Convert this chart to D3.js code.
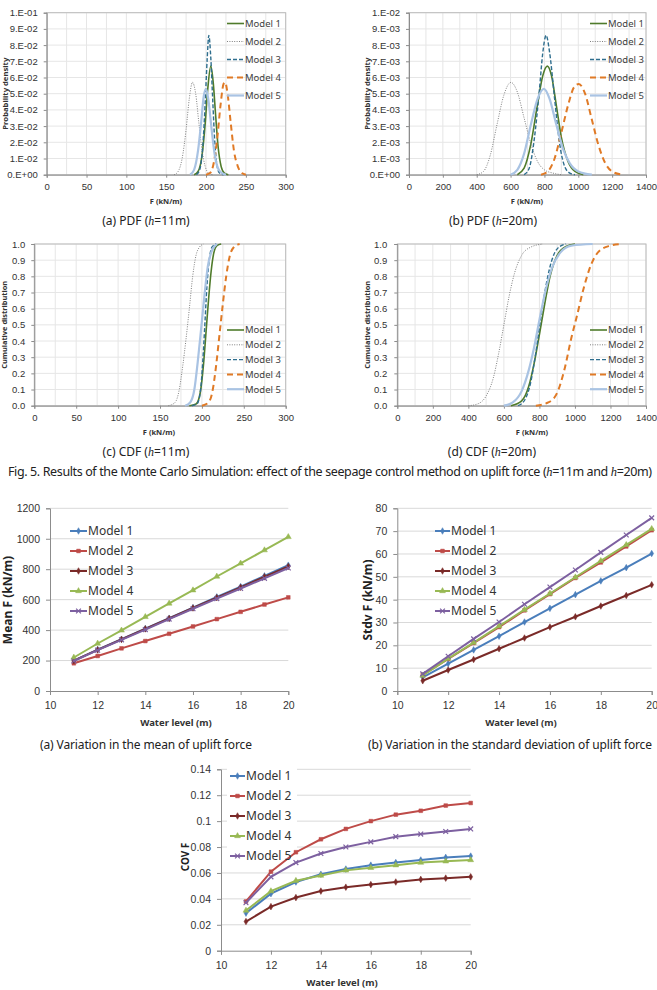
<!DOCTYPE html>
<html>
<head>
<meta charset="utf-8">
<script src="https://cdn.jsdelivr.net/npm/d3@7"></script>
<style>
  body { margin: 0; background: #fff; }
  svg { display: block; font-family: "Noto Sans", "DejaVu Sans", sans-serif; }
</style>
</head>
<body>
<svg id="fig" width="657" height="990"></svg>
<script>
"use strict";
const MODELS = ["Model 1", "Model 2", "Model 3", "Model 4", "Model 5"];

// ---- (a) PDF, h = 11 m : [F, density]
const pdf11_m1 = [[185,0],[190,0.002],[195,0.012],[199,0.032],[202,0.052],[206,0.067],[209,0.057],[212,0.037],[215,0.018],[219,0.005],[223,0.001],[228,0]];
const pdf11_m2 = [[160,0],[165,0.002],[170,0.01],[175,0.028],[179,0.047],[183,0.057],[187,0.05],[191,0.032],[195,0.015],[199,0.005],[203,0.001],[208,0]];
const pdf11_m3 = [[188,0],[192,0.003],[196,0.018],[199,0.045],[201.5,0.072],[203.5,0.086],[206,0.072],[208.5,0.045],[211,0.02],[214,0.005],[217,0.001],[222,0]];
const pdf11_m4 = [[200,0],[205,0.001],[210,0.008],[214,0.022],[218,0.042],[222,0.056],[224,0.057],[227,0.05],[231,0.032],[235,0.015],[240,0.005],[245,0.001],[250,0]];
const pdf11_m5 = [[180,0],[185,0.003],[190,0.015],[194,0.033],[197,0.048],[200,0.053],[203,0.046],[207,0.028],[211,0.012],[215,0.004],[220,0.001],[225,0]];

// ---- (b) PDF, h = 20 m
const pdf20_m1 = [[640,0],[680,0.0004],[720,0.0019],[760,0.0044],[790,0.0061],[817,0.0067],[842,0.0061],[870,0.0043],[900,0.0023],[940,0.0008],[980,0.0002],[1030,0]];
const pdf20_m2 = [[400,0],[440,0.0002],[480,0.0012],[520,0.0031],[560,0.0049],[602,0.0057],[640,0.0051],[680,0.0035],[720,0.0019],[760,0.0008],[800,0.0003],[850,0.0001],[900,0]];
const pdf20_m3 = [[680,0],[710,0.0004],[740,0.0022],[770,0.0052],[790,0.0075],[810,0.0086],[830,0.0076],[860,0.0047],[890,0.0019],[920,0.0005],[950,0.0001],[980,0]];
const pdf20_m4 = [[780,0],[820,0.0002],[860,0.001],[900,0.0026],[940,0.0043],[975,0.0054],[1003,0.0056],[1040,0.005],[1080,0.0034],[1120,0.0018],[1160,0.0007],[1200,0.0002],[1260,0]];
const pdf20_m5 = [[600,0],[640,0.0003],[680,0.0013],[720,0.0031],[760,0.0047],[797,0.0053],[830,0.0047],[870,0.0031],[910,0.0016],[950,0.0007],[1000,0.0002],[1080,0]];

// ---- (c) CDF, h = 11 m
const cdf11_m1 = [[185,0],[193,0.01],[198,0.08],[202,0.26],[205,0.46],[208,0.66],[211,0.83],[214,0.94],[218,0.99],[223,1]];
const cdf11_m2 = [[160,0],[168,0.02],[173,0.1],[177,0.24],[181,0.41],[185,0.6],[189,0.8],[193,0.93],[197,0.98],[202,1]];
const cdf11_m3 = [[188,0],[194,0.01],[198,0.08],[201,0.27],[203.5,0.5],[206,0.74],[209,0.91],[212,0.98],[217,1]];
const cdf11_m4 = [[200,0],[208,0.02],[213,0.1],[217,0.25],[221,0.44],[225,0.63],[229,0.8],[233,0.92],[238,0.98],[245,1]];
const cdf11_m5 = [[180,0],[186,0.02],[191,0.1],[195,0.27],[199,0.47],[203,0.68],[207,0.86],[212,0.96],[218,1]];

// ---- (d) CDF, h = 20 m
const cdf20_m1 = [[640,0],[700,0.03],[740,0.12],[770,0.26],[800,0.44],[830,0.63],[860,0.8],[900,0.93],[950,0.985],[1000,1]];
const cdf20_m2 = [[400,0],[450,0.01],[500,0.06],[540,0.17],[570,0.32],[600,0.5],[630,0.68],[660,0.82],[700,0.93],[750,0.98],[820,1]];
const cdf20_m3 = [[680,0],[720,0.04],[750,0.14],[780,0.33],[810,0.56],[840,0.76],[870,0.9],[900,0.97],[950,1]];
const cdf20_m4 = [[780,0],[850,0.02],[900,0.08],[940,0.22],[980,0.42],[1010,0.55],[1050,0.73],[1090,0.87],[1140,0.96],[1200,0.99],[1260,1]];
const cdf20_m5 = [[600,0],[650,0.02],[700,0.09],[740,0.22],[770,0.36],[800,0.53],[830,0.69],[870,0.85],[920,0.95],[980,0.99],[1100,1]];

// ---- tick values
const TICKS_F300 = [0, 50, 100, 150, 200, 250, 300];
const TICKS_F1400 = [0, 200, 400, 600, 800, 1000, 1200, 1400];
const TICKS_PDF11 = [0, 0.01, 0.02, 0.03, 0.04, 0.05, 0.06, 0.07, 0.08, 0.09, 0.1];
const TICKS_PDF20 = [0, 0.001, 0.002, 0.003, 0.004, 0.005, 0.006, 0.007, 0.008, 0.009, 0.01];
const TICKS_CDF = [0, 0.1, 0.2, 0.3, 0.4, 0.5, 0.6, 0.7, 0.8, 0.9, 1.0];
const TICKS_LEVEL = [10, 12, 14, 16, 18, 20];
const TICKS_MEAN = [0, 200, 400, 600, 800, 1000, 1200];
const TICKS_STDV = [0, 10, 20, 30, 40, 50, 60, 70, 80];
const TICKS_COV = [0, 0.02, 0.04, 0.06, 0.08, 0.1, 0.12, 0.14];

// ---- water level series
const LEVELS = [11, 12, 13, 14, 15, 16, 17, 18, 19, 20];
const mean_m1 = [200, 272, 340, 410, 478, 548, 618, 686, 756, 826];
const mean_m2 = [182, 230, 280, 328, 376, 424, 472, 520, 568, 615];
const mean_m3 = [199, 270, 339, 408, 476, 545, 613, 681, 750, 818];
const mean_m4 = [220, 312, 398, 487, 575, 662, 752, 838, 925, 1012];
const mean_m5 = [197, 268, 336, 403, 472, 540, 607, 673, 740, 808];

const stdv_m1 = [6, 12, 18, 24, 30.2, 36.2, 42.2, 48.2, 54, 60.2];
const stdv_m2 = [7, 14, 21, 28, 35.3, 42.4, 49.5, 56.3, 63.3, 70.4];
const stdv_m3 = [4.5, 9.2, 13.8, 18.5, 23.2, 28, 32.5, 37.2, 41.8, 46.5];
const stdv_m4 = [6.8, 14.2, 21.2, 28.4, 35.6, 42.7, 49.8, 57, 64, 71];
const stdv_m5 = [7.5, 15.2, 22.8, 30.2, 38, 45.5, 53, 60.7, 68.3, 75.8];

const cov_m1 = [0.029, 0.044, 0.053, 0.059, 0.063, 0.066, 0.068, 0.070, 0.072, 0.073];
const cov_m2 = [0.038, 0.061, 0.076, 0.086, 0.094, 0.100, 0.105, 0.108, 0.112, 0.114];
const cov_m3 = [0.0225, 0.034, 0.041, 0.046, 0.049, 0.051, 0.053, 0.055, 0.056, 0.057];
const cov_m4 = [0.031, 0.046, 0.054, 0.058, 0.062, 0.064, 0.066, 0.068, 0.069, 0.070];
const cov_m5 = [0.037, 0.057, 0.068, 0.075, 0.080, 0.084, 0.088, 0.090, 0.092, 0.094];

const DIST_STYLE = [
  { color: "#4f7b2b", width: 1.6, dash: null },
  { color: "#7f7f7f", width: 1, dash: "1,1.4" },
  { color: "#2e6e8e", width: 1.4, dash: "4,2" },
  { color: "#e07a26", width: 2, dash: "6,4" },
  { color: "#a9c3e3", width: 2.2, dash: null }
];
const LINE_STYLE = [
  { color: "#4a7ebb", marker: "diamond" },
  { color: "#be4b48", marker: "square" },
  { color: "#7a2a28", marker: "diamond" },
  { color: "#98b954", marker: "triangle" },
  { color: "#7d60a0", marker: "x" }
];

const svg = d3.select("#fig");

function sciLabel(d) {
  if (d === 0) return "0.E+00";
  const e = Math.floor(Math.log10(d) + 1e-9);
  const m = Math.round(d / Math.pow(10, e));
  return m + ".E-" + String(-e).padStart(2, "0");
}

function styleAxis(ax, fs) {
  ax.select(".domain").attr("stroke", "#8c8c8c");
  ax.selectAll(".tick line").attr("stroke", "#8c8c8c");
  ax.selectAll(".tick text").attr("fill", "#333").attr("font-size", fs);
}

/* distribution panels: PDF / CDF */
function distPanel(c) {
  const g = svg.append("g");
  const xMax = c.xTicks[c.xTicks.length - 1];
  const x = d3.scaleLinear().domain([0, xMax]).range([c.l, c.r]);
  const y = d3.scaleLinear().domain([0, c.yTicks[c.yTicks.length - 1]]).range([c.b, c.t]);

  g.append("g").selectAll("line").data(d3.range(c.gridStep, xMax + 1e-9, c.gridStep)).join("line")
    .attr("x1", (d) => x(d)).attr("x2", (d) => x(d)).attr("y1", c.t).attr("y2", c.b)
    .attr("stroke", "#e6e6e6");
  g.append("g").selectAll("line").data(c.yTicks.slice(1)).join("line")
    .attr("x1", c.l).attr("x2", c.r).attr("y1", (d) => y(d)).attr("y2", (d) => y(d))
    .attr("stroke", "#e6e6e6");
  g.append("rect").attr("x", c.l).attr("y", c.t).attr("width", c.r - c.l).attr("height", c.b - c.t)
    .attr("fill", "none").attr("stroke", "#bcbcbc");

  const xa = g.append("g").attr("transform", `translate(0,${c.b})`)
    .call(d3.axisBottom(x).tickValues(c.xTicks).tickSize(3).tickPadding(6).tickFormat(d3.format("d")));
  styleAxis(xa, 9.5);
  const ya = g.append("g").attr("transform", `translate(${c.l},0)`)
    .call(d3.axisLeft(y).tickValues(c.yTicks).tickSize(3).tickPadding(c.yPad).tickFormat(c.yFmt));
  styleAxis(ya, 9.5);

  const line = d3.line().x((d) => x(d[0])).y((d) => y(d[1])).curve(d3.curveMonotoneX);
  c.series.forEach((pts, i) => {
    const st = DIST_STYLE[i];
    g.append("path").datum(pts).attr("d", line).attr("fill", "none")
      .attr("stroke", st.color).attr("stroke-width", st.width)
      .attr("stroke-dasharray", st.dash);
  });

  // legend
  MODELS.forEach((m, i) => {
    const st = DIST_STYLE[i];
    const ly = c.legY + i * c.legDy;
    g.append("line").attr("x1", c.legX).attr("x2", c.legX + 17).attr("y1", ly).attr("y2", ly)
      .attr("stroke", st.color).attr("stroke-width", st.width).attr("stroke-dasharray", st.dash);
    g.append("text").attr("x", c.legX + 18).attr("y", ly).attr("dy", "0.35em")
      .attr("font-size", 9.5).attr("fill", "#404040").text(m);
  });

  g.append("text").attr("x", c.xLab).attr("y", c.b + 29).attr("text-anchor", "middle")
    .attr("font-size", 7.5).attr("font-weight", "bold").attr("fill", "#333").text("F (kN/m)");
  g.append("text").attr("transform", `translate(${c.yLabX},${(c.t + c.b) / 2}) rotate(-90)`)
    .attr("text-anchor", "middle").attr("dy", "0.35em").attr("font-size", 7.5).attr("font-weight", "bold")
    .attr("fill", "#333").attr("textLength", c.yLabLen).attr("lengthAdjust", "spacingAndGlyphs").text(c.yLabel);

  const cap = g.append("text").attr("x", c.capX).attr("y", c.b + 46).attr("text-anchor", "middle")
    .attr("dy", "0.35em").attr("font-size", 12).attr("fill", "#222");
  cap.append("tspan").text(c.cap1 + "  (");
  cap.append("tspan").attr("font-style", "italic").attr("font-family", "Liberation Serif, serif").text("h");
  cap.append("tspan").text(c.cap2);
}

function markerPath(kind, r) {
  if (kind === "diamond") return d3.symbol(d3.symbolDiamond, r * r * 2.2)();
  if (kind === "square") return d3.symbol(d3.symbolSquare, r * r * 2.4)();
  if (kind === "triangle") return d3.symbol(d3.symbolTriangle, r * r * 2.6)();
  return `M${-r},${-r}L${r},${r}M${-r},${r}L${r},${-r}`;
}

/* water level panels */
function levelPanel(c) {
  const g = svg.append("g");
  const x = d3.scaleLinear().domain([10, 20]).range([c.l, c.r]);
  const y = d3.scaleLinear().domain([0, c.yTicks[c.yTicks.length - 1]]).range([c.b, c.t]);

  g.append("g").selectAll("line").data(c.yTicks.slice(1)).join("line")
    .attr("x1", c.l).attr("x2", c.r).attr("y1", (d) => y(d)).attr("y2", (d) => y(d))
    .attr("stroke", "#d9d9d9");

  const xa = g.append("g").attr("transform", `translate(0,${c.b})`)
    .call(d3.axisBottom(x).tickValues(TICKS_LEVEL).tickSize(4).tickPadding(7).tickFormat(d3.format("d")));
  styleAxis(xa, 10.5);
  const ya = g.append("g").attr("transform", `translate(${c.l},0)`)
    .call(d3.axisLeft(y).tickValues(c.yTicks).tickSize(4).tickPadding(6).tickFormat(c.yFmt));
  styleAxis(ya, 10.5);

  if (c.legBg) {
    g.append("rect").attr("x", c.legX - 3).attr("y", c.legY - 9).attr("width", 70).attr("height", 98)
      .attr("fill", "#fff");
  }

  const line = d3.line().x((d, i) => x(LEVELS[i])).y((d) => y(d));
  c.series.forEach((vals, i) => {
    const st = LINE_STYLE[i];
    g.append("path").datum(vals).attr("d", line).attr("fill", "none")
      .attr("stroke", st.color).attr("stroke-width", 2);
    g.append("g").selectAll("path").data(vals).join("path")
      .attr("transform", (d, k) => `translate(${x(LEVELS[k])},${y(d)})`)
      .attr("d", markerPath(st.marker, 2.4))
      .attr("fill", st.marker === "x" ? "none" : st.color)
      .attr("stroke", st.color).attr("stroke-width", st.marker === "x" ? 1.2 : 0.5);
  });

  MODELS.forEach((m, i) => {
    const st = LINE_STYLE[i];
    const ly = c.legY + i * 20;
    g.append("line").attr("x1", c.legX).attr("x2", c.legX + c.legW).attr("y1", ly).attr("y2", ly)
      .attr("stroke", st.color).attr("stroke-width", 2);
    g.append("path").attr("transform", `translate(${c.legX + c.legW / 2},${ly})`)
      .attr("d", markerPath(st.marker, 2.4))
      .attr("fill", st.marker === "x" ? "none" : st.color)
      .attr("stroke", st.color).attr("stroke-width", st.marker === "x" ? 1.2 : 0.5);
    g.append("text").attr("x", c.legX + c.legW + 1).attr("y", ly).attr("dy", "0.36em")
      .attr("font-size", 12).attr("fill", "#333").text(m);
  });

  g.append("text").attr("x", c.xLab).attr("y", c.b + 35).attr("text-anchor", "middle")
    .attr("font-size", 9.5).attr("font-weight", "bold").attr("fill", "#333").text("Water level (m)");
  g.append("text").attr("transform", `translate(${c.yLabX},${c.yLabY}) rotate(-90)`)
    .attr("text-anchor", "middle").attr("dy", "0.35em").attr("font-size", c.yLabFs).attr("font-weight", "bold")
    .attr("fill", "#222").text(c.yLabel);
}

distPanel({ l: 46.7, r: 285.7, t: 12.7, b: 174.7, xTicks: TICKS_F300, gridStep: 25, yTicks: TICKS_PDF11,
  yFmt: sciLabel, yPad: 6, series: [pdf11_m1, pdf11_m2, pdf11_m3, pdf11_m4, pdf11_m5],
  legX: 227, legY: 23.5, legDy: 18, xLab: 166, yLabX: 5, yLabel: "Probability density", yLabLen: 72,
  capX: 146, cap1: "(a)  PDF", cap2: "=11m)" });
distPanel({ l: 409, r: 646, t: 12.7, b: 174.7, xTicks: TICKS_F1400, gridStep: 100, yTicks: TICKS_PDF20,
  yFmt: sciLabel, yPad: 6, series: [pdf20_m1, pdf20_m2, pdf20_m3, pdf20_m4, pdf20_m5],
  legX: 590, legY: 23.5, legDy: 18, xLab: 527, yLabX: 367, yLabel: "Probability density", yLabLen: 72,
  capX: 493, cap1: "(b)  PDF", cap2: "=20m)" });
distPanel({ l: 34.3, r: 285.7, t: 244, b: 405.7, xTicks: TICKS_F300, gridStep: 25, yTicks: TICKS_CDF,
  yFmt: d3.format(".1f"), yPad: 6, series: [cdf11_m1, cdf11_m2, cdf11_m3, cdf11_m4, cdf11_m5],
  legX: 227, legY: 330, legDy: 14.8, xLab: 159, yLabX: 4, yLabel: "Cumulative distribution", yLabLen: 88,
  capX: 146, cap1: "(c)  CDF", cap2: "=11m)" });
distPanel({ l: 397.3, r: 646, t: 244, b: 405.7, xTicks: TICKS_F1400, gridStep: 100, yTicks: TICKS_CDF,
  yFmt: d3.format(".1f"), yPad: 7, series: [cdf20_m1, cdf20_m2, cdf20_m3, cdf20_m4, cdf20_m5],
  legX: 590, legY: 330, legDy: 14.8, xLab: 532, yLabX: 367, yLabel: "Cumulative distribution", yLabLen: 88,
  capX: 492, cap1: "(d)  CDF", cap2: "=20m)" });

// figure caption
const fc = svg.append("text").attr("x", 8).attr("y", 472).attr("dy", "0.35em").attr("font-size", 12.5)
  .attr("fill", "#222").attr("textLength", 644).attr("lengthAdjust", "spacing");
fc.append("tspan").text("Fig. 5. Results of the Monte Carlo Simulation: effect of the seepage control method on uplift force (");
fc.append("tspan").attr("font-style", "italic").attr("font-family", "Liberation Serif, serif").text("h");
fc.append("tspan").text("=11m and ");
fc.append("tspan").attr("font-style", "italic").attr("font-family", "Liberation Serif, serif").text("h");
fc.append("tspan").text("=20m)");

levelPanel({ l: 50, r: 288.3, t: 508.3, b: 691, yTicks: TICKS_MEAN, yFmt: d3.format("d"),
  series: [mean_m1, mean_m2, mean_m3, mean_m4, mean_m5], legX: 70, legY: 531, legW: 17, legBg: false,
  xLab: 176, yLabX: 8, yLabY: 600, yLabFs: 12, yLabel: "Mean F (kN/m)" });
levelPanel({ l: 397.3, r: 651.7, t: 508.3, b: 691, yTicks: TICKS_STDV, yFmt: d3.format("d"),
  series: [stdv_m1, stdv_m2, stdv_m3, stdv_m4, stdv_m5], legX: 435, legY: 531, legW: 15, legBg: false,
  xLab: 521, yLabX: 368, yLabY: 600, yLabFs: 12, yLabel: "Stdv F (kN/m)" });
levelPanel({ l: 221, r: 470.7, t: 769.3, b: 950.7, yTicks: TICKS_COV, yFmt: (d) => d === 0 ? "0" : String(+d.toFixed(2)),
  series: [cov_m1, cov_m2, cov_m3, cov_m4, cov_m5], legX: 230, legY: 776, legW: 15, legBg: true,
  xLab: 342, yLabX: 185, yLabY: 857, yLabFs: 10, yLabel: "COV F" });

// sub-captions of the lower row
svg.append("text").attr("x", 40).attr("y", 745).attr("dy", "0.35em").attr("font-size", 12)
  .attr("fill", "#222").attr("textLength", 212).attr("lengthAdjust", "spacing")
  .text("(a) Variation in the mean of uplift force");
svg.append("text").attr("x", 368).attr("y", 745).attr("dy", "0.35em").attr("font-size", 12)
  .attr("fill", "#222").attr("textLength", 284).attr("lengthAdjust", "spacing")
  .text("(b) Variation in the standard deviation of uplift force");
</script>
</body>
</html>
